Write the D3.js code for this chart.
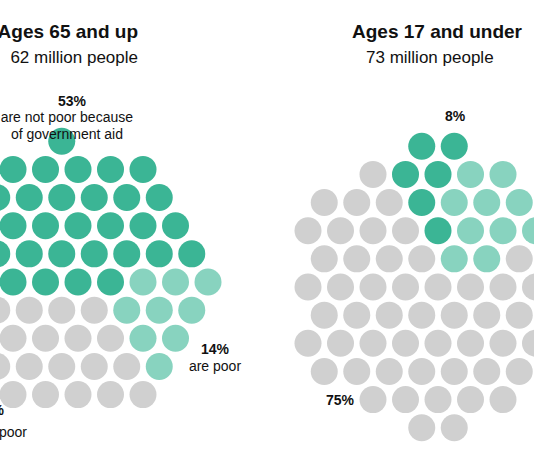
<!DOCTYPE html>
<html><head><meta charset="utf-8">
<script src="https://cdn.jsdelivr.net/npm/d3@7"></script>
<style>body{margin:0;background:#fff}text{font-family:"Helvetica Neue",Arial,"Liberation Sans",sans-serif}</style>
</head><body><svg id="c" width="534" height="462"></svg>
<script>
const groups = ["Ages 65 and up", "Ages 17 and under"];
const populations = [62, 73];
const darkCounts = [33, 6];   // not poor because of aid
const lightCounts = [9, 12];  // poor
const grayCounts = [20, 55];  // not poor
const colors = {dark:"#3bb595", light:"#88d3bf", gray:"#d0d0d0"};

const svg = d3.select("#c");
const r = 13.5, sp = 32.5;
const layout = [
  {cx:78, cy:282, start:-180},
  {cx:438, cy:287, start:-118}
];
groups.forEach((g,i)=>{
  const L = layout[i];
  const n = populations[i];
  const cells = [];
  for(let row=-8;row<=8;row++) for(let col=-8;col<=8;col++){
    const x = (col + (row&1)*0.5)*sp, y = row*sp*0.866;
    cells.push({x, y, d:Math.hypot(x,y)});
  }
  cells.sort((a,b)=>a.d-b.d);
  const pts = cells.slice(0,n);
  pts.forEach(p=>{ let a = Math.atan2(p.y,p.x)*180/Math.PI - L.start; p.a = ((a%360)+360)%360; });
  pts.sort((a,b)=>a.a-b.a);
  const kinds = [].concat(Array(darkCounts[i]).fill("dark"),Array(lightCounts[i]).fill("light"),Array(grayCounts[i]).fill("gray"));
  pts.forEach((p,j)=>p.k=kinds[j]);
  const x = d3.scaleLinear().domain([0,1]).range([L.cx, L.cx+1]);
  const y = d3.scaleLinear().domain([0,1]).range([L.cy, L.cy+1]);
  svg.append("g").selectAll("circle").data(pts).join("circle")
    .attr("cx",d=>x(d.x)).attr("cy",d=>y(d.y)).attr("r",r).attr("fill",d=>colors[d.k]);
});
function txt(x,y,s,size,w,anchor){svg.append("text").attr("x",x).attr("y",y).attr("font-size",size)
  .attr("font-weight",w).attr("text-anchor",anchor||"middle").attr("fill","#111").text(s);}
txt(138,38,groups[0],19,"bold","end");
txt(138,63,populations[0]+" million people",17,"normal","end");
txt(352,38,groups[1],19,"bold","start");
txt(366,63,populations[1]+" million people",17,"normal","start");
txt(72,106,"53%",14,"bold");
txt(133,122,"are not poor because",14,"normal","end");
txt(123,139,"of government aid",14,"normal","end");
txt(455,121,"8%",14,"bold");
txt(215,354,"14%",14,"bold");
txt(215,371,"are poor",14,"normal");
txt(340,405,"75%",14,"bold");
txt(4,415,"33%",14,"bold","end");
txt(27,437,"are not poor",14,"normal","end");
</script></body></html>
